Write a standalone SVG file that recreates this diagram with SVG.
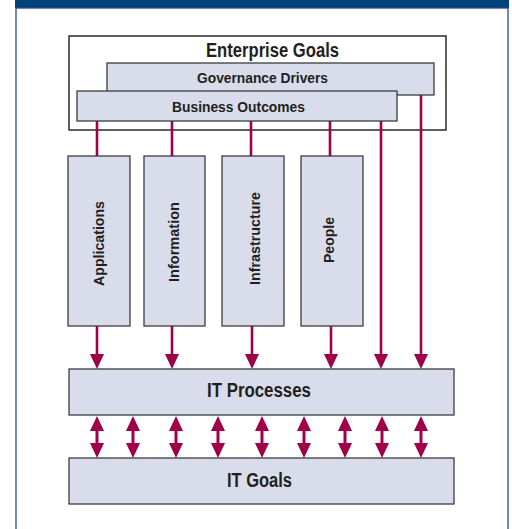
<svg xmlns="http://www.w3.org/2000/svg" width="512" height="529" viewBox="0 0 512 529">
<style>
.box{fill:#d9dcea;stroke:#3c3c3c;stroke-width:1.3}
.t{font-family:"Liberation Sans",Arial,sans-serif;font-weight:bold;fill:#231f20;text-anchor:middle}
.ln{stroke:#a0004a;stroke-width:2.6;fill:none}
.hd{fill:#a0004a}
</style>
<defs>
<path id="down" d="M-7,0 L7,0 L0,15 Z"/>
<path id="up" d="M-7,0 L7,0 L0,-15 Z"/>
</defs>
<rect x="0" y="0" width="512" height="529" fill="#ffffff"/>
<rect x="15" y="0" width="494" height="8" fill="#00427a"/>
<rect x="16" y="8" width="492" height="530" fill="none" stroke="#1f4e8c" stroke-width="1.3"/>

<g id="enterprise-goals">
<rect x="69" y="36" width="377" height="94" fill="#ffffff" stroke="#2a2a2a" stroke-width="1.5"/>
<text class="t" x="272.5" y="57" font-size="19.5" textLength="133" lengthAdjust="spacingAndGlyphs">Enterprise Goals</text>
</g>
<g id="connectors">
<line class="ln" x1="97" y1="121" x2="97" y2="156"/>
<line class="ln" x1="172" y1="121" x2="172" y2="156"/>
<line class="ln" x1="251" y1="121" x2="251" y2="156"/>
<line class="ln" x1="330" y1="121" x2="330" y2="156"/>
<line class="ln" x1="97" y1="326" x2="97" y2="356"/>
<line class="ln" x1="172" y1="326" x2="172" y2="356"/>
<line class="ln" x1="252" y1="326" x2="252" y2="356"/>
<line class="ln" x1="331" y1="326" x2="331" y2="356"/>
<line class="ln" x1="381" y1="121" x2="381" y2="356"/>
<line class="ln" x1="421" y1="95" x2="421" y2="356" stroke-width="4"/>
<g class="hd">
<use href="#down" x="97" y="354"/>
<use href="#down" x="172" y="354"/>
<use href="#down" x="252" y="354"/>
<use href="#down" x="331" y="354"/>
<use href="#down" x="381" y="354"/>
<use href="#down" x="421" y="354"/>
</g>
<g class="hd">
<g transform="translate(97,0)"><use href="#up" y="431"/><rect x="-1.5" y="430" width="3" height="14"/><use href="#down" y="443"/></g>
<g transform="translate(133,0)"><use href="#up" y="431"/><rect x="-1.5" y="430" width="3" height="14"/><use href="#down" y="443"/></g>
<g transform="translate(176,0)"><use href="#up" y="431"/><rect x="-1.5" y="430" width="3" height="14"/><use href="#down" y="443"/></g>
<g transform="translate(218,0)"><use href="#up" y="431"/><rect x="-1.5" y="430" width="3" height="14"/><use href="#down" y="443"/></g>
<g transform="translate(262,0)"><use href="#up" y="431"/><rect x="-1.5" y="430" width="3" height="14"/><use href="#down" y="443"/></g>
<g transform="translate(304,0)"><use href="#up" y="431"/><rect x="-1.5" y="430" width="3" height="14"/><use href="#down" y="443"/></g>
<g transform="translate(345,0)"><use href="#up" y="431"/><rect x="-1.5" y="430" width="3" height="14"/><use href="#down" y="443"/></g>
<g transform="translate(382,0)"><use href="#up" y="431"/><rect x="-1.5" y="430" width="3" height="14"/><use href="#down" y="443"/></g>
<g transform="translate(421,0)"><use href="#up" y="431"/><rect x="-1.5" y="430" width="3" height="14"/><use href="#down" y="443"/></g>
</g>
</g>
<g id="governance-drivers">
<rect class="box" x="107" y="63" width="327" height="32"/>
<text class="t" x="262.5" y="83.3" font-size="15" textLength="131" lengthAdjust="spacingAndGlyphs">Governance Drivers</text>
</g>
<g id="business-outcomes">
<rect class="box" x="77" y="91" width="320" height="30"/>
<text class="t" x="238.5" y="111.5" font-size="15" textLength="133" lengthAdjust="spacingAndGlyphs">Business Outcomes</text>
</g>
<g id="applications">
<rect class="box" x="68" y="156" width="62" height="170"/>
<text class="t" font-size="15" transform="translate(104,243.5) rotate(-90)" textLength="85" lengthAdjust="spacingAndGlyphs">Applications</text>
</g>
<g id="information">
<rect class="box" x="144" y="156" width="61" height="170"/>
<text class="t" font-size="15" transform="translate(179,242) rotate(-90)" textLength="80" lengthAdjust="spacingAndGlyphs">Information</text>
</g>
<g id="infrastructure">
<rect class="box" x="222" y="156" width="62" height="170"/>
<text class="t" font-size="15" transform="translate(260,238.5) rotate(-90)" textLength="93" lengthAdjust="spacingAndGlyphs">Infrastructure</text>
</g>
<g id="people">
<rect class="box" x="301" y="156" width="62" height="170"/>
<text class="t" font-size="15" transform="translate(334,240) rotate(-90)" textLength="46" lengthAdjust="spacingAndGlyphs">People</text>
</g>
<g id="it-processes">
<rect class="box" x="69" y="369" width="385" height="46"/>
<text class="t" x="259" y="397" font-size="20" textLength="104" lengthAdjust="spacingAndGlyphs">IT Processes</text>
</g>
<g id="it-goals">
<rect class="box" x="69" y="458" width="385" height="46"/>
<text class="t" x="259.5" y="487" font-size="20" textLength="65" lengthAdjust="spacingAndGlyphs">IT Goals</text>
</g>
</svg>
